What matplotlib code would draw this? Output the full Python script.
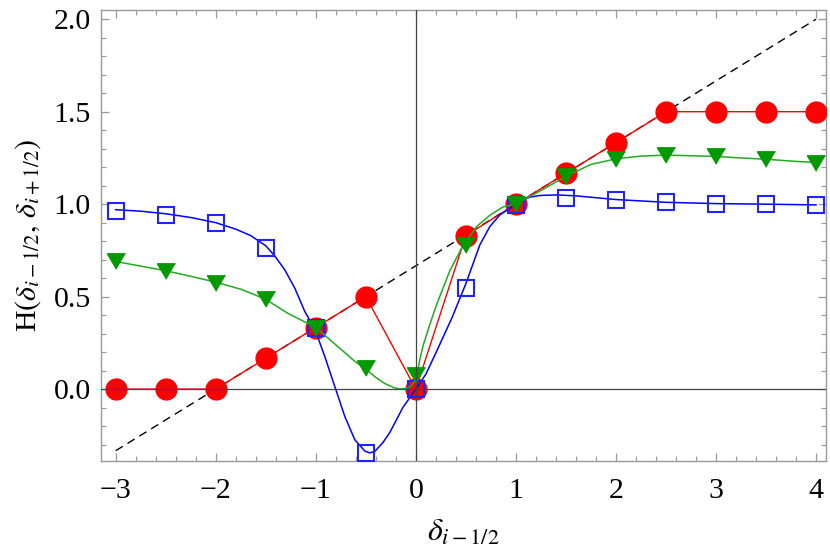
import matplotlib
matplotlib.use("Agg")
import matplotlib.pyplot as plt
from matplotlib.ticker import MultipleLocator, FormatStrFormatter

plt.rcParams['font.family'] = ['Liberation Serif', 'DejaVu Serif']
plt.rcParams['mathtext.fontset'] = 'stix'

# sample points (markers)
xs = [-3, -2.5, -2, -1.5, -1, -0.5, 0, 0.5, 1, 1.5, 2, 2.5, 3, 3.5, 4]
red_y = [0, 0, 0, 0.167, 0.333, 0.5, 0, 0.83, 1.0, 1.167, 1.333, 1.5, 1.5, 1.5, 1.5]
green_y = [0.69, 0.64, 0.575, 0.485, 0.333, 0.113, 0.075, 0.78, 1.0, 1.155,
           1.243, 1.265, 1.258, 1.243, 1.225]
blue_y = [0.964, 0.944, 0.90, 0.763, 0.333, -0.345, 0.0, 0.548, 0.995, 1.034,
          1.02, 1.009, 1.002, 1.0, 0.996]

# smooth curves
blue_cx = [-3.0, -2.75, -2.5, -2.25, -2.0, -1.8, -1.65, -1.5, -1.41, -1.31,
           -1.21, -1.11, -1.01, -0.91, -0.81, -0.71, -0.61, -0.51, -0.46, -0.41,
           -0.33, -0.26, -0.13, 0.0, 0.1, 0.2, 0.36, 0.44, 0.5, 0.54,
           0.64, 0.74, 0.84, 0.94, 1.04, 1.14, 1.24, 1.41, 1.6, 2.0,
           2.5, 3.0, 3.5, 4.0]
blue_cy = [0.97, 0.962, 0.948, 0.928, 0.90, 0.865, 0.83, 0.775, 0.72, 0.645,
           0.546, 0.42, 0.325, 0.176, 0.014, -0.148, -0.274, -0.335, -0.345, -0.337,
           -0.29, -0.235, -0.10, 0.0, 0.08, 0.195, 0.384, 0.49, 0.57, 0.63,
           0.78, 0.879, 0.942, 0.978, 1.014, 1.038, 1.047, 1.05, 1.045, 1.025,
           1.01, 1.003, 1.0, 0.996]
green_cx = [-3.0, -2.75, -2.5, -2.25, -2.0, -1.75, -1.61, -1.5, -1.28, -1.0,
            -0.78, -0.61, -0.5, -0.39, -0.31, -0.22, -0.16, -0.1, -0.05, 0.0,
            0.02, 0.04, 0.07, 0.14, 0.21, 0.34, 0.47, 0.61, 0.74, 0.87,
            1.0, 1.27, 1.5, 1.75, 2.0, 2.25, 2.5, 2.75, 3.0, 3.25,
            3.5, 3.75, 4.0]
green_cy = [0.69, 0.665, 0.64, 0.61, 0.578, 0.54, 0.51, 0.485, 0.41, 0.333,
            0.23, 0.15, 0.108, 0.059, 0.03, 0.008, 0.0, 0.004, 0.015, 0.05,
            0.1, 0.16, 0.23, 0.35, 0.46, 0.64, 0.775, 0.88, 0.94, 0.985,
            1.0, 1.08, 1.15, 1.215, 1.245, 1.26, 1.265, 1.262, 1.258, 1.25,
            1.243, 1.233, 1.225]
diag_x = [-3, 4]
diag_y = [-1 / 3, 2.0]

fig = plt.figure(figsize=(8.3, 5.59), dpi=100)
ax = fig.add_axes([0.1213, 0.1753, 0.8739, 0.8068])

ax.plot(diag_x, diag_y, color='black', lw=1.0, ls=(0, (6, 4)), zorder=2)

ax.plot(xs, red_y, color='red', lw=1.0, zorder=3)
ax.plot(xs, red_y, ls='none', marker='o', ms=15, color='red', mec='red', zorder=3)

ax.plot(blue_cx, blue_cy, color='#0000ff', lw=1.1, zorder=4)
ax.plot(xs, blue_y, ls='none', marker='s', ms=12, mfc='none', mec='#2222ff',
        mew=1.5, zorder=4)

tri = [(0, -0.85), (-1, 0.85), (1, 0.85)]
ax.plot(green_cx, green_cy, color='#22aa22', lw=1.1, zorder=4.5)
ax.plot(xs, green_y, ls='none', marker=tri, ms=13, color='#009900', zorder=4.5)

ax.axhline(0, color='#444444', lw=0.9, zorder=6)
ax.axvline(0, color='#444444', lw=0.9, zorder=6)

ax.set_xlim(-3.15, 4.1)
ax.set_ylim(-0.389, 2.05)

ax.xaxis.set_major_locator(MultipleLocator(1))
ax.xaxis.set_minor_locator(MultipleLocator(0.2))
ax.yaxis.set_major_locator(MultipleLocator(0.5))
ax.yaxis.set_minor_locator(MultipleLocator(0.1))
ax.yaxis.set_major_formatter(FormatStrFormatter('%.1f'))

for s in ax.spines.values():
    s.set_color('#999999')
    s.set_linewidth(1.0)
ax.tick_params(which='both', direction='in', top=True, right=True,
               color='#999999', labelsize=21.5)
ax.tick_params(which='major', length=6, width=0.9)
ax.tick_params(which='minor', length=3.5, width=0.8)
ax.tick_params(axis='x', pad=12)
ax.tick_params(axis='y', pad=7)

ax.set_xlabel(r'$\delta_{i-1/2}$', fontsize=23, labelpad=11)
ax.set_ylabel(r'H$(\delta_{i-1/2},\,\delta_{i+1/2})$', fontsize=21.5, labelpad=8)

fig.savefig('out.png', dpi=100)
